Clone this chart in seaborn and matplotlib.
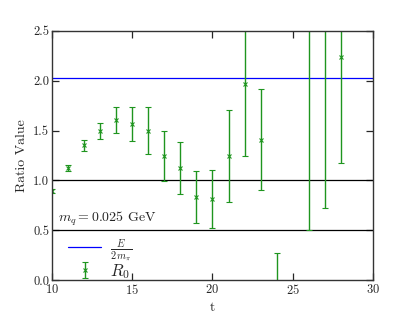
import numpy as np
import matplotlib
matplotlib.use('Agg')
import matplotlib.pyplot as plt
import seaborn as sns

# data
t = [10, 11, 12, 13, 14, 15, 16, 17, 18, 19, 20, 21, 22, 23, 24, 26, 27, 28]
ratio = [0.89, 1.12, 1.35, 1.50, 1.61, 1.57, 1.50, 1.245, 1.12, 0.83, 0.81,
         1.245, 1.97, 1.41, -0.30, 3.00, 3.00, 2.24]
err = [0.02, 0.03, 0.06, 0.08, 0.13, 0.17, 0.24, 0.25, 0.26, 0.26, 0.29,
       0.46, 0.73, 0.51, 0.57, 2.50, 2.28, 1.07]
e_over_2m = 2.03
ref_lines = [1.0, 0.5]

sns.set_style('ticks')
plt.rcParams['font.family'] = 'serif'
plt.rcParams['font.serif'] = ['cmr10', 'DejaVu Serif']
plt.rcParams['mathtext.fontset'] = 'cm'
plt.rcParams['axes.formatter.use_mathtext'] = True
plt.rcParams['axes.unicode_minus'] = False

fig, ax = plt.subplots(figsize=(4.15, 3.15), dpi=100)
fig.subplots_adjust(left=0.125, right=0.899, top=0.902, bottom=0.111)

ax.axhline(e_over_2m, color='blue', lw=0.9, label=r'$\frac{E}{2\,m_\pi}$')
for y in ref_lines:
    ax.axhline(y, color='black', lw=0.9)

ax.errorbar(t, ratio, yerr=err, fmt='x', color='#1f951f', ms=3.5, mew=0.8,
            elinewidth=1.0, capsize=2, capthick=0.8, label=r'$R_0$')

ax.set_xlim(10, 30)
ax.set_ylim(0, 2.5)
ax.set_xticks([10, 15, 20, 25, 30])
ax.set_yticks([0.0, 0.5, 1.0, 1.5, 2.0, 2.5])
ax.set_yticklabels(['0.0', '0.5', '1.0', '1.5', '2.0', '2.5'])
ax.tick_params(direction='in', top=True, right=True, labelsize=9, length=5,
               width=0.9, pad=2)
for s in ax.spines.values():
    s.set_linewidth(1.0)
    s.set_color('#333333')
ax.set_xlabel('t', fontsize=10)
ax.set_ylabel('Ratio Value', fontsize=10)

ax.text(0.018, 0.245, r'$m_q = 0.025$ GeV', transform=ax.transAxes,
        fontsize=10, va='center', ha='left')
leg = ax.legend(loc='center left', bbox_to_anchor=(0.05, 0.085),
                frameon=False, fontsize=12, handlelength=2.0,
                borderpad=0, borderaxespad=0, labelspacing=-0.1,
                handletextpad=0.5)
leg.get_texts()[0].set_fontsize(10.5)

fig.savefig('out.png', dpi=100)
